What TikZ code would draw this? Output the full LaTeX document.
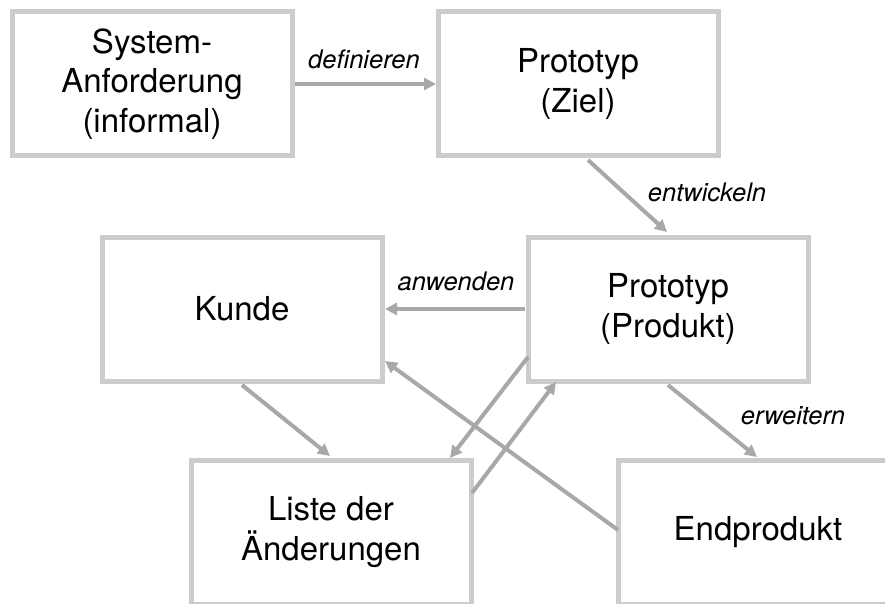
\documentclass[tikz,border=0pt]{standalone}
\usepackage{fontspec}
\setmainfont{TeX Gyre Heros}
\usetikzlibrary{arrows.meta}
\definecolor{boxgray}{HTML}{CCCCCC}
\definecolor{arrowgray}{HTML}{A8A8A8}
\tikzset{
  stage/.style={draw=boxgray, line width=5pt, fill=white, outer sep=0pt,
    minimum width=280pt, minimum height=144pt, align=center,
    font=\fontsize{33}{39.5}\selectfont},
  conn/.style={draw=arrowgray, line width=4pt,
    -{Triangle[length=12pt,width=12pt]}},
  verb/.style={font=\fontsize{25.5}{30}\selectfont\itshape, inner sep=0pt}
}
\begin{document}
\begin{tikzpicture}[x=1pt, y=-1pt]
\useasboundingbox (0,0) rectangle (885,604);

% process stages
\node[stage] (sys)   at (152,84)  {System-\\Anforderung\\(informal)};
\node[stage] (ziel)  at (578,84)  {Prototyp\\(Ziel)};
\node[stage] (kunde) at (242,309) {Kunde};
\node[stage] (prod)  at (668,309) {Prototyp\\(Produkt)};
\node[stage] (liste) at (331,532) {Liste der\\Änderungen};
\node[stage] (endp)  at (758,532) {Endprodukt};

% transitions
\draw[conn] ([xshift=3pt]sys.east) -- ([xshift=-2pt]ziel.west);
\draw[conn] ([xshift=10pt,yshift=-4pt]ziel.south) -- ([xshift=-1pt,yshift=5pt]prod.north);
\draw[conn] ([xshift=-3pt]prod.west) -- ([xshift=3pt]kunde.east);
\draw[conn] ([yshift=-4pt]kunde.south) -- ([xshift=-1pt,yshift=4pt]liste.north);
\draw[conn] ([yshift=-48pt]prod.west) -- ([xshift=-21pt,yshift=2pt]liste.north east);
\draw[conn] ([xshift=1pt,yshift=-33pt]liste.north east) -- ([xshift=28pt,yshift=-1pt]prod.south west);
\draw[conn] ([yshift=2pt]endp.west) -- ([xshift=3pt,yshift=20pt]kunde.south east);
\draw[conn] ([yshift=-4pt]prod.south) -- ([xshift=-1pt,yshift=3pt]endp.north);

% transition labels
\node[verb] (lDef) at (364,59)  {definieren};
\node[verb] (lEnt) at (707,192) {entwickeln};
\node[verb] (lAnw) at (456,281) {anwenden};
\node[verb] (lErw) at (793,416) {erweitern};
\end{tikzpicture}
\end{document}
